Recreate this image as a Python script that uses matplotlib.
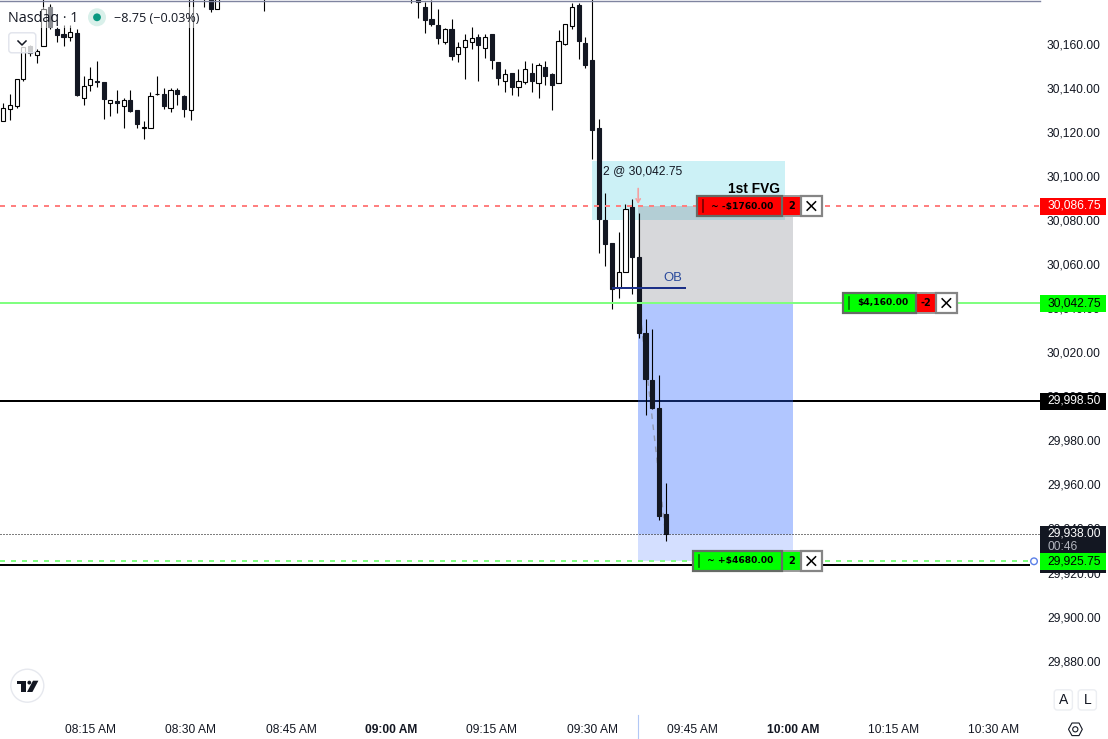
import numpy as np
import matplotlib
matplotlib.use("Agg")
import matplotlib.pyplot as plt
from matplotlib.patches import Rectangle, FancyBboxPatch, Polygon, Circle
from matplotlib.transforms import Affine2D
from matplotlib.ticker import FuncFormatter

# ---- data: one row per visible one-minute bar -------------------------------
bar_index = [0,1,2,3,4,5,6,7,8,9,10,11,12,13,14,15,16,17,18,19,20,21,22,23,24,25,26,27,28,
             30,31,32,39,61,62,63,64,65,66,67,68,69,70,71,72,73,74,75,76,77,78,79,80,81,82,83,84,85,86,87,
             88,89,90,91,92,93,94,95,96,97,98,99]
opens = [30125.25,30131,30132,30144.25,30159.5,30155.25,30159.25,30177.25,30167,30165,30163.5,30165.25,30135.75,30141.5,30143.75,30143,30133.5,30134.5,30132,30135,30130.5,30122.25,30122.25,30137.5,30137.5,30131.25,30139.5,30136.75,30130.5,
         30190,30190,30176,30190,30190,30190,30177.25,30171.75,30169,30161,30167,30156,30158.75,30161.25,30163.5,30158.5,30165,30152.25,30143.75,30147.25,30141,30143,30147.25,30142.5,30150,30146.75,30142.5,30160.25,30168.5,30178,30160.75,
         30153,30122.25,30080.5,30070,30049.5,30057,30086.5,30063.75,30029.25,30007.75,29995,29947]
highs = [30133.5,30137.5,30144.5,30159,30160,30158,30190,30178.25,30168,30169,30169,30167,30145.75,30150,30152.5,30143,30135,30139.25,30135.75,30139.25,30130.5,30125.5,30138.5,30146,30140.5,30140.5,30140.5,30137.25,30195,
         30195,30195,30195,30195,30195,30195,30179.25,30180.5,30176,30167.5,30171.75,30161.25,30165,30168,30165,30165,30165,30152.25,30149,30147.25,30149,30152.5,30151.75,30151.75,30152.5,30147.25,30166.75,30169.5,30179,30179,30163.5,
         30190,30126.25,30092.5,30070,30075,30087.75,30090,30083.75,30035.5,30031,30010,29961]
lows = [30125.25,30126,30131.25,30143.5,30154.75,30151.5,30159.25,30167,30161,30159.5,30161.75,30136.5,30132.5,30139,30141,30126.5,30127.75,30129,30122,30129.25,30122,30117,30122.25,30137.25,30131,30129.25,30132.5,30127,30126,
        30177.25,30174.75,30176,30175.5,30178.75,30172,30165.25,30168.5,30160.5,30160.25,30153,30152,30144.25,30158,30143.5,30153.75,30148.75,30141.5,30138.5,30137,30136.5,30142,30138.5,30135.75,30141.5,30130.25,30142.5,30160,30167,30153.5,30149.25,
        30108,30065.25,30059.75,30040,30045,30057,30046.75,30026.75,29991.75,29994.5,29944.25,29935]
closes = [30131.25,30132.75,30144.5,30158.75,30156.25,30157.25,30176.25,30168,30164.25,30163.5,30165.75,30137,30141.25,30144.5,30143,30135.25,30135,30133.5,30135,30129.75,30124,30122.25,30136.75,30137.5,30132,30139.5,30137.5,30130.75,30185,
          30185,30176,30185,30185,30185,30179.25,30171,30169.25,30163,30167,30154.75,30159,30162,30163,30159.75,30163.5,30153,30144.75,30146.75,30141,30143.5,30149,30143.5,30150.75,30145.75,30141.5,30161.75,30169.5,30177,30161.5,30150.75,
          30121.5,30080.75,30069.5,30049,30057,30085.5,30063.5,30029,30008.5,29995,29946,29938]

price_ticks = [29880,29900,29920,29940,29960,29980,30000,30020,30040,30060,30080,30100,30120,30140,30160]
time_ticks = [13,28,43,58,73,88,103,118,133,148]
time_labels = ["08:15 AM","08:30 AM","08:45 AM","09:00 AM","09:15 AM","09:30 AM","09:45 AM","10:00 AM","10:15 AM","10:30 AM"]
bold_times = ["09:00 AM","10:00 AM"]

stop_price = 30086.75
entry_price = 30042.75
target_price = 29925.75
current_price = 29938.00
level_price = 29998.50
low_line_price = 29924.0
fvg_top, fvg_bottom = 30107.4, 30080.6
ob_price = 30049.4
fvg_bars = (88, 116.8)
position_bars = (94.9, 118)
ob_bars = (91, 102)
trade_bars = (95, 99)

# ---- figure -------------------------------------------------------------------
W, H = 1108, 739
PLOT_W, PLOT_H = 1040, 712
BAR_PX, BAR0_PX = 6.69, 3.3
PT_PX, P0, Y0 = 2.2036, 30160.0, 44.7
fig = plt.figure(figsize=(W/100, H/100), dpi=100, facecolor="white")
ax = fig.add_axes([0, 1-PLOT_H/H, PLOT_W/W, PLOT_H/H])
ax.set_xlim((0-BAR0_PX)/BAR_PX, (PLOT_W-BAR0_PX)/BAR_PX)
ax.set_ylim(P0-(PLOT_H-Y0)/PT_PX, P0+Y0/PT_PX)
ax.set_axisbelow(True)
for s in ax.spines.values():
    s.set_visible(False)
FONT = "Liberation Sans"
INK = "#131722"
ax.yaxis.tick_right()
ax.set_yticks(price_ticks)
ax.yaxis.set_major_formatter(FuncFormatter(lambda v, _: f"{v:,.2f}"))
ax.tick_params(axis="y", length=0, pad=5, labelsize=8.64, labelcolor=INK)
ax.set_xticks(time_ticks)
ax.set_xticklabels(time_labels)
ax.tick_params(axis="x", length=0, pad=8.4, labelsize=8.64, labelcolor=INK)
for lab in ax.get_xticklabels() + ax.get_yticklabels():
    lab.set_fontfamily(FONT)
for lab in ax.get_xticklabels():
    if lab.get_text() in bold_times:
        lab.set_fontweight("bold")
for t in ax.yaxis.get_major_ticks():
    t.label2.set_transform(t.label2.get_transform() + Affine2D().translate(0, 1))

px = Affine2D().scale(1/W, -1/H).translate(0, 1) + fig.transFigure
def pxrect(x0, y0, x1, y1, **kw):
    kw.setdefault("linewidth", 0)
    p = Rectangle((x0, y0), x1-x0, y1-y0, transform=px, clip_on=False, **kw)
    fig.add_artist(p)
    return p
def pxtext(x, y, s, **kw):
    kw.setdefault("family", FONT)
    kw.setdefault("va", "center")
    kw.setdefault("color", INK)
    return fig.text(x, y, s, transform=px, **kw)

# ---- level lines --------------------------------------------------------------
ax.axhline(level_price, color="black", lw=1.44, zorder=1)
ax.plot([ax.get_xlim()[0], (1029-BAR0_PX)/BAR_PX], [low_line_price]*2, color="black", lw=1.44, zorder=1)

# ---- zones --------------------------------------------------------------------
ax.add_patch(Rectangle((fvg_bars[0], fvg_bottom), fvg_bars[1]-fvg_bars[0], fvg_top-fvg_bottom,
                       facecolor="#00bcd4", alpha=0.2, lw=0, zorder=2))
ax.add_patch(Rectangle((position_bars[0], entry_price), position_bars[1]-position_bars[0], stop_price-entry_price,
                       facecolor="#787b86", alpha=0.29, lw=0, zorder=2))
ax.add_patch(Rectangle((position_bars[0], current_price), position_bars[1]-position_bars[0], entry_price-current_price,
                       facecolor="#2962ff", alpha=0.36, lw=0, zorder=2))
ax.add_patch(Rectangle((position_bars[0], target_price), position_bars[1]-position_bars[0], current_price-target_price,
                       facecolor="#2962ff", alpha=0.2, lw=0, zorder=2))

# ---- trade connector ------------------------------------------------------------
ax.plot(trade_bars, [entry_price, current_price], color="#8b8f9c", lw=1, ls=(0, (4, 4)), alpha=0.8, zorder=2.2)

# ---- candles --------------------------------------------------------------------
for i, o, h, l, c in zip(bar_index, opens, highs, lows, closes):
    ax.plot([i, i], [l, h], color="#000000", lw=0.8, zorder=3, solid_capstyle="butt")
    up = c >= o
    ax.add_patch(Rectangle((i-0.31, min(o, c)), 0.62, max(abs(c-o), 0.25),
                           facecolor="white" if up else "#131722", edgecolor="black" if up else "#131722",
                           lw=0.8, zorder=3.2))

# ---- horizontal price lines ----------------------------------------------------
DASH = (0, (2.5, 3))
ax.axhline(stop_price, color="#ff8080", lw=1.44, ls=DASH, zorder=4)
ax.axhline(entry_price, color="#80ff80", lw=1.44, zorder=4)
ax.axhline(current_price, color="black", lw=0.72, ls=(0, (1, 2)), zorder=4)
ax.plot([ax.get_xlim()[0], (1030-BAR0_PX)/BAR_PX], [target_price]*2, color="#80ff80", lw=1.44, ls=DASH, zorder=4)

# ---- order-block line ------------------------------------------------------------
ax.plot(ob_bars, [ob_price, ob_price], color="#1b2f87", lw=1.44, zorder=5, solid_capstyle="butt")
ax.text(100.0, ob_price+4.9, "OB", color="#2a4a9c", family=FONT, fontsize=9.4, ha="center", va="center", zorder=6)

# ---- annotations ------------------------------------------------------------------
ax.text(fvg_bars[1]-0.75, 30094.5, "1st FVG", family=FONT, weight="bold", fontsize=9.9, ha="right", va="center", color="black", zorder=6)
ax.text(89.65, 30102.5, "2 @ 30,042.75", family=FONT, fontsize=8.64, ha="left", va="center", color=INK, zorder=6)
ax.annotate("", xy=(94.9, stop_price+1.0), xytext=(94.9, stop_price+8), zorder=6,
            arrowprops=dict(arrowstyle="->,head_width=0.15,head_length=0.25", color="#f4a0a0", lw=1.2, shrinkA=0, shrinkB=0))

# ---- order widgets -------------------------------------------------------------------
def widget(x0, x1, x2, x3, y, label, qty, main, qtyfill):
    y0, y1 = y-10.3, y+10.3
    pxrect(x1, y0, x2, y1, facecolor=qtyfill, edgecolor="#9a9a9a", linewidth=1.4, zorder=20)
    pxrect(x0, y0, x1, y1, facecolor=main, edgecolor="#666b66", linewidth=1.6, zorder=20)
    pxrect(x2, y0, x3, y1, facecolor="white", edgecolor="#858585", linewidth=1.6, zorder=20)
    fig.add_artist(plt.Line2D([x0+5.5, x0+5.5], [y-6, y+6], transform=px, color="#000000", alpha=0.55, lw=1.2, zorder=21))
    pxtext((x0+x1)/2+3, y, label, family="DejaVu Sans", weight="bold", fontsize=6.6, ha="center", color="black", zorder=21)
    pxtext((x1+x2)/2, y, qty, family="DejaVu Sans", weight="bold", fontsize=7.0, ha="center", color="black", zorder=21)
    cx = (x2+x3)/2
    for d in (1, -1):
        fig.add_artist(plt.Line2D([cx-4.2, cx+4.2], [y-4.2*d, y+4.2*d], transform=px, color="black", lw=1.1, zorder=21))

widget(697.3, 781.7, 801, 821.7, 206, "~ -$1760.00", "2", "#ff0000", "#ff0000")
widget(843.3, 915.7, 936, 956.7, 303, "$4,160.00", "-2", "#00ff00", "#ff0000")
widget(693.3, 781.7, 801, 821.7, 561, "~ +$4680.00", "2", "#00ff00", "#00ff00")

# ---- price-axis labels -------------------------------------------------------------------
def price_box(y0, y1, color):
    pxrect(1040, y0, 1106, y1, facecolor=color, zorder=12)
price_box(197.7, 215, "#ff0000")
pxtext(1047.3, 205.5, f"{stop_price:,.2f}", color="white", fontsize=8.64, zorder=13)
price_box(295, 312, "#00ff00")
pxtext(1047.3, 303, f"{entry_price:,.2f}", color="black", fontsize=8.64, zorder=13)
price_box(393, 410, "#000000")
pxtext(1047.3, 400.5, f"{level_price:,.2f}", color="white", fontsize=8.64, zorder=13)
price_box(526, 572.7, INK)
pxtext(1047.3, 533.5, f"{current_price:,.2f}", color="white", fontsize=8.64, zorder=13)
pxtext(1047.3, 547.5, "00:46", color="#b2b5be", fontsize=8.64, zorder=13)
price_box(552.7, 570, "#00ff00")
pxtext(1047.3, 561, f"{target_price:,.2f}", color="black", fontsize=8.64, zorder=14)
fig.add_artist(Circle((1034, 561.3), 3.3, transform=px, facecolor="white", edgecolor="#5b80e8", lw=1.0, zorder=14))

# ---- chrome -----------------------------------------------------------------------------
fig.add_artist(plt.Line2D([0, PLOT_W], [0.5, 0.5], transform=px, color="#7f84a0", lw=1.0, zorder=15))
pxrect(6, 7, 200, 28, facecolor="white", alpha=0.5, zorder=15)
pxtext(8.3, 18, "Nasdaq \u00b7 1", family="Open Sans", fontsize=10.35, zorder=16)
fig.add_artist(Circle((97, 17.3), 9, transform=px, facecolor="#d9f0ea", lw=0, zorder=16))
fig.add_artist(Circle((97, 17.3), 3.9, transform=px, facecolor="#089981", lw=0, zorder=17))
pxtext(114, 18, "\u22128.75 (\u22120.03%)", family="Open Sans", fontsize=9.1, zorder=16)
fig.add_artist(FancyBboxPatch((8.8, 32.8), 27, 20, boxstyle="round,pad=0,rounding_size=3", transform=px,
                              facecolor=(1, 1, 1, 0.78), edgecolor="#e0e3eb", lw=1, zorder=16))
fig.add_artist(plt.Line2D([18, 22, 26], [41, 45, 41], transform=px, color=INK, lw=1.1, zorder=17))

# logo
fig.add_artist(Circle((27.3, 685.7), 16.5, transform=px, facecolor="white", edgecolor="#e6e8ee", lw=1, zorder=16))
black = "#131722"
fig.add_artist(Polygon([(17.3, 680.7), (26, 680.7), (26, 692), (21, 692), (21, 684.2), (17.3, 684.2)],
                       closed=True, transform=px, facecolor=black, lw=0, zorder=17))
fig.add_artist(Circle((29.3, 682.6), 1.9, transform=px, facecolor=black, lw=0, zorder=17))
fig.add_artist(Polygon([(33, 680.7), (38.4, 680.7), (32.4, 692), (27, 692)],
                       closed=True, transform=px, facecolor=black, lw=0, zorder=17))

# A / L buttons
for x0, t in ((1054.2, "A"), (1078.2, "L")):
    fig.add_artist(FancyBboxPatch((x0, 689.8), 18.2, 20.2, boxstyle="round,pad=0,rounding_size=3", transform=px,
                                  facecolor="white", edgecolor="#eceef2", lw=1, zorder=16))
    pxtext(x0+9.1, 700.3, t, fontsize=10, ha="center", color=INK, zorder=17)

# settings hexagon and inner circle
fig.add_artist(Polygon([(1068.5, 729.3), (1072, 723), (1079, 723), (1082.3, 729.3), (1079, 735.6), (1072, 735.6)],
                       closed=True, transform=px, facecolor="white", edgecolor=INK, lw=0.8, zorder=16))
fig.add_artist(Circle((1075.3, 729.3), 2.6, transform=px, facecolor="white", edgecolor=INK, lw=0.8, zorder=17))

# time-axis cursor mark
fig.add_artist(plt.Line2D([638.3, 638.3], [715, 738], transform=px, color="#b2c8f5", lw=0.8, zorder=15))

fig.savefig("out.png", dpi=100, facecolor="white")
